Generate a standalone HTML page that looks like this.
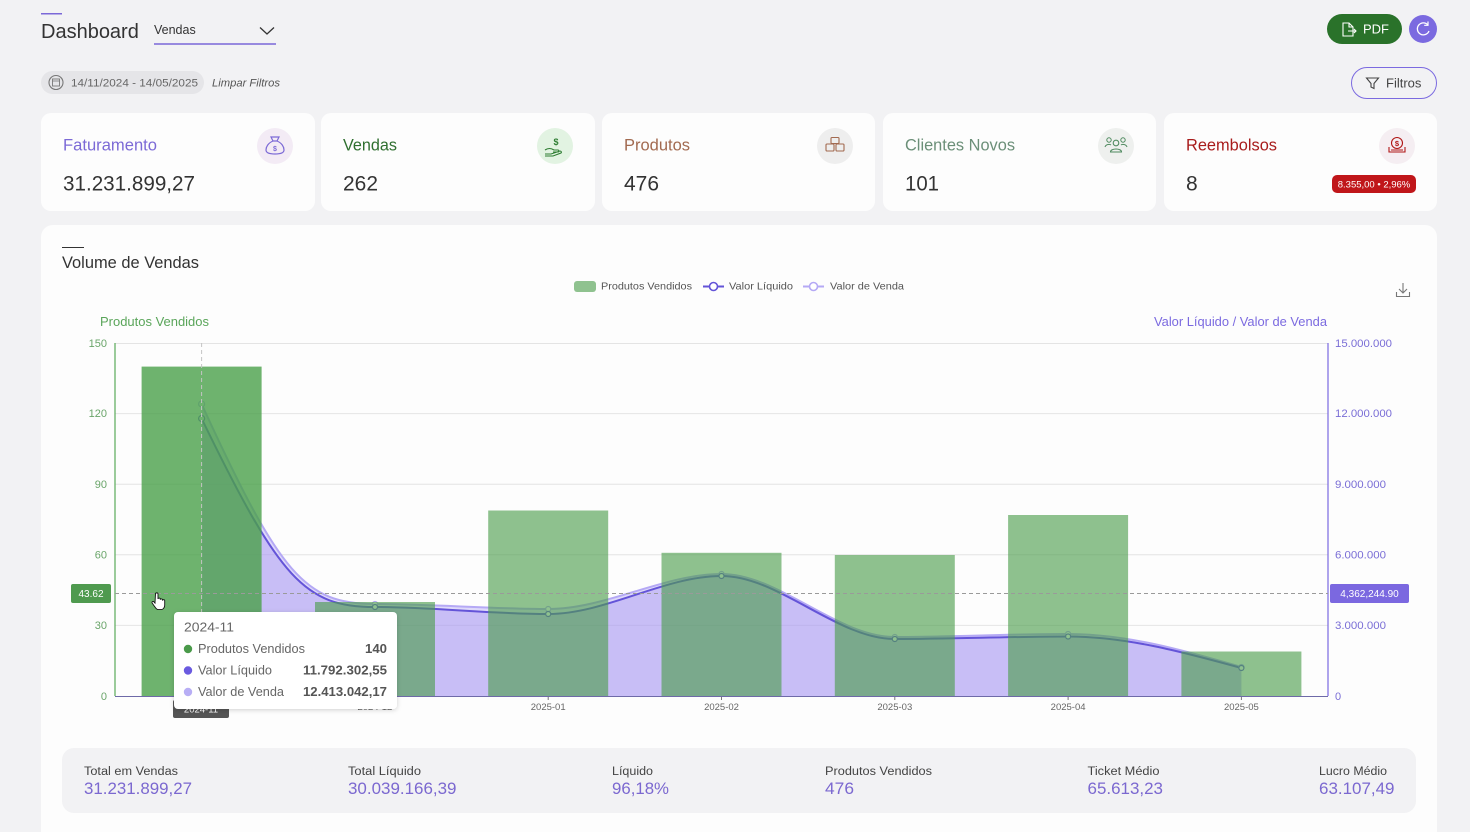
<!DOCTYPE html>
<html>
<head>
<meta charset="utf-8">
<style>
html,body{margin:0;padding:0;background:#f2f2f4;}
body{width:1470px;height:832px;overflow:hidden;}
svg{display:block;font-family:"Liberation Sans",sans-serif;}
</style>
</head>
<body>
<svg width="1470" height="832" viewBox="0 0 1470 832" xmlns="http://www.w3.org/2000/svg">
<defs>
<filter id="sh" x="-10%" y="-10%" width="120%" height="130%">
<feDropShadow dx="0" dy="1" stdDeviation="2.5" flood-color="#000" flood-opacity="0.18"/>
</filter>
</defs>
<rect x="0" y="0" width="1470" height="832" fill="#f2f2f4"/>

<!-- Header -->
<rect x="41" y="13" width="21" height="1.5" fill="#7b68d8"/>
<text x="41" y="38" font-size="20" fill="#333">Dashboard</text>
<text x="154" y="34" font-size="12.5" fill="#333">Vendas</text>
<line x1="154" y1="44" x2="276" y2="44" stroke="#7b68d8" stroke-width="1.5"/>
<polyline points="260,27.5 267,34 274,27.5" fill="none" stroke="#333" stroke-width="1.3"/>

<!-- PDF button -->
<rect x="1327" y="14" width="75" height="30" rx="15" fill="#2a722a"/>
<path d="M1343,23 h6 l4,4 v9 h-10 z M1349,23 v4 h4" fill="none" stroke="#fff" stroke-width="1.1"/>
<path d="M1348,31 h8 M1354,29 l2,2 -2,2" fill="none" stroke="#fff" stroke-width="1.1"/>
<text x="1363" y="33.5" font-size="13" fill="#fff">PDF</text>
<circle cx="1423" cy="29" r="14" fill="#7b6ae0"/>
<path d="M1428,25 A6,6 0 1 0 1429,31" fill="none" stroke="#fff" stroke-width="1.3"/>
<path d="M1428,21.5 v3.8 h-3.8" fill="none" stroke="#fff" stroke-width="1.2"/>

<!-- Date chip -->
<rect x="41" y="71" width="163" height="23" rx="11.5" fill="#e5e5e8"/>
<circle cx="56" cy="82.5" r="7" fill="none" stroke="#777" stroke-width="1.1"/>
<rect x="52.5" y="79" width="7" height="7" fill="none" stroke="#777" stroke-width="0.9"/>
<line x1="52.5" y1="81" x2="59.5" y2="81" stroke="#777" stroke-width="0.8"/>
<text x="71" y="86.5" font-size="11" fill="#666" textLength="127" lengthAdjust="spacingAndGlyphs">14/11/2024 - 14/05/2025</text>
<text x="212" y="86.5" font-size="11" font-style="italic" fill="#555" textLength="68" lengthAdjust="spacingAndGlyphs">Limpar Filtros</text>

<!-- Filtros -->
<rect x="1351.5" y="67.5" width="85" height="31" rx="15.5" fill="none" stroke="#7b6ae0" stroke-width="1"/>
<path d="M1366.5,78 h12 l-4.5,5.5 v5 l-3,-1.5 v-3.5 z" fill="none" stroke="#444" stroke-width="1.1"/>
<text x="1386" y="87.5" font-size="13" fill="#444">Filtros</text>

<!-- Stat cards -->
<rect x="41" y="113" width="274" height="98" rx="10" fill="#fdfdfd"/>
<rect x="321" y="113" width="274" height="98" rx="10" fill="#fdfdfd"/>
<rect x="602" y="113" width="273" height="98" rx="10" fill="#fdfdfd"/>
<rect x="883" y="113" width="273" height="98" rx="10" fill="#fdfdfd"/>
<rect x="1164" y="113" width="273" height="98" rx="10" fill="#fdfdfd"/>

<text x="63" y="150.5" font-size="17" fill="#7c6ad6" textLength="94" lengthAdjust="spacingAndGlyphs">Faturamento</text>
<text x="63" y="190.5" font-size="21" fill="#333" textLength="132" lengthAdjust="spacingAndGlyphs">31.231.899,27</text>
<circle cx="275" cy="146" r="18" fill="#f3ebf5"/>
<path d="M271,137 h8 l-2,4 c5,2 7,6 7,9 c0,3 -3,4 -9,4 c-6,0 -9,-1 -9,-4 c0,-3 2,-7 7,-9 z M273,141 h4" fill="none" stroke="#7c6ad6" stroke-width="1.2"/>
<text x="275" y="151" font-size="7" font-weight="bold" fill="#7c6ad6" text-anchor="middle">$</text>

<text x="343" y="150.5" font-size="17" fill="#2f6f2f" textLength="54" lengthAdjust="spacingAndGlyphs">Vendas</text>
<text x="343" y="190.5" font-size="21" fill="#333" textLength="35" lengthAdjust="spacingAndGlyphs">262</text>
<circle cx="555" cy="146" r="18" fill="#e2f3e2"/>
<text x="556" y="145" font-size="9" font-weight="bold" fill="#2e7d32" text-anchor="middle">$</text>
<path d="M545,150 c3,-2 6,-2 9,0 h4 c1,0 1,2 0,2 h-5 M545,154 h6 l9,-3 c1,0 2,1 1,2 l-8,3 h-8" fill="none" stroke="#2e7d32" stroke-width="1.1"/>

<text x="624" y="150.5" font-size="17" fill="#a26a50" textLength="66" lengthAdjust="spacingAndGlyphs">Produtos</text>
<text x="624" y="190.5" font-size="21" fill="#333" textLength="35" lengthAdjust="spacingAndGlyphs">476</text>
<circle cx="835" cy="146" r="18" fill="#eeeeee"/>
<rect x="831" y="137.5" width="8" height="6" rx="1" fill="none" stroke="#a26a50" stroke-width="1.1"/>
<rect x="826" y="144" width="8" height="7" rx="1" fill="none" stroke="#a26a50" stroke-width="1.1"/>
<rect x="836" y="144" width="8" height="7" rx="1" fill="none" stroke="#a26a50" stroke-width="1.1"/>

<text x="905" y="150.5" font-size="17" fill="#6b8f78" textLength="110" lengthAdjust="spacingAndGlyphs">Clientes Novos</text>
<text x="905" y="190.5" font-size="21" fill="#333" textLength="34" lengthAdjust="spacingAndGlyphs">101</text>
<circle cx="1116" cy="146" r="18" fill="#eef0ee"/>
<circle cx="1116" cy="143" r="2.8" fill="none" stroke="#4f8a5f" stroke-width="1.1"/>
<path d="M1110.5,152 c0,-4 11,-4 11,0 z" fill="none" stroke="#4f8a5f" stroke-width="1.1"/>
<circle cx="1109" cy="140" r="2.2" fill="none" stroke="#4f8a5f" stroke-width="1"/>
<circle cx="1123" cy="140" r="2.2" fill="none" stroke="#4f8a5f" stroke-width="1"/>
<path d="M1105,147 c1,-3 5,-3 6,-2 M1127,147 c-1,-3 -5,-3 -6,-2" fill="none" stroke="#4f8a5f" stroke-width="1"/>

<text x="1186" y="150.5" font-size="17" fill="#a81c1c" textLength="91" lengthAdjust="spacingAndGlyphs">Reembolsos</text>
<text x="1186" y="190.5" font-size="21" fill="#333">8</text>
<circle cx="1397" cy="146" r="18" fill="#f5eef2"/>
<circle cx="1397" cy="143" r="5.5" fill="none" stroke="#b01616" stroke-width="1.1"/>
<text x="1397" y="146" font-size="7.5" font-weight="bold" fill="#b01616" text-anchor="middle">$</text>
<path d="M1389,147 v5 h16 v-5 M1391,150 h12" fill="none" stroke="#b01616" stroke-width="1.1"/>
<rect x="1332" y="175" width="84" height="18" rx="5" fill="#c0161a"/>
<text x="1374" y="187.5" font-size="9.5" fill="#fff" text-anchor="middle">8.355,00 • 2,96%</text>

<!-- Chart card -->
<rect x="41" y="225" width="1396" height="640" rx="12" fill="#fdfdfd"/>
<line x1="62" y1="247.5" x2="84" y2="247.5" stroke="#333" stroke-width="1"/>
<text x="62" y="268" font-size="16.5" fill="#333" textLength="137" lengthAdjust="spacingAndGlyphs">Volume de Vendas</text>

<!-- Legend -->
<rect x="574" y="281" width="22" height="11" rx="3" fill="#8fc28f"/>
<text x="601" y="289.5" font-size="10.5" fill="#555" textLength="91" lengthAdjust="spacingAndGlyphs">Produtos Vendidos</text>
<line x1="703" y1="286.5" x2="724" y2="286.5" stroke="#6454d8" stroke-width="2"/>
<circle cx="713.5" cy="286.5" r="4" fill="#fff" stroke="#6454d8" stroke-width="1.6"/>
<text x="729" y="289.5" font-size="10.5" fill="#555" textLength="64" lengthAdjust="spacingAndGlyphs">Valor Líquido</text>
<line x1="803" y1="286.5" x2="824" y2="286.5" stroke="#b5a9f5" stroke-width="2"/>
<circle cx="813.5" cy="286.5" r="4" fill="#fff" stroke="#b5a9f5" stroke-width="1.6"/>
<text x="830" y="289.5" font-size="10.5" fill="#555" textLength="74" lengthAdjust="spacingAndGlyphs">Valor de Venda</text>

<!-- Download icon -->
<path d="M1403,283 v10 M1399,289 l4,4 4,-4 M1396.5,292 v4.5 h13 v-4.5" fill="none" stroke="#777" stroke-width="1.1"/>

<!-- Axis titles -->
<text x="100" y="326" font-size="12.5" fill="#5aa55a" textLength="109" lengthAdjust="spacingAndGlyphs">Produtos Vendidos</text>
<text x="1154" y="326" font-size="12.5" fill="#7b6ae0" textLength="173" lengthAdjust="spacingAndGlyphs">Valor Líquido / Valor de Venda</text>

<!-- Grid -->
<g stroke="#e4e4e4" stroke-width="1">
<line x1="115" y1="343.5" x2="1328" y2="343.5"/>
<line x1="115" y1="413.6" x2="1328" y2="413.6"/>
<line x1="115" y1="484.2" x2="1328" y2="484.2"/>
<line x1="115" y1="554.8" x2="1328" y2="554.8"/>
<line x1="115" y1="625.4" x2="1328" y2="625.4"/>
</g>

<!-- Left ticks -->
<g font-size="11" fill="#6aa56a" text-anchor="end">
<text x="107" y="347">150</text>
<text x="107" y="417">120</text>
<text x="107" y="488">90</text>
<text x="107" y="558.5">60</text>
<text x="107" y="629">30</text>
<text x="107" y="700">0</text>
</g>
<!-- Right ticks -->
<g font-size="11" fill="#7a6ed6">
<text x="1335" y="347" textLength="57" lengthAdjust="spacingAndGlyphs">15.000.000</text>
<text x="1335" y="417" textLength="57" lengthAdjust="spacingAndGlyphs">12.000.000</text>
<text x="1335" y="488" textLength="51" lengthAdjust="spacingAndGlyphs">9.000.000</text>
<text x="1335" y="558.5" textLength="51" lengthAdjust="spacingAndGlyphs">6.000.000</text>
<text x="1335" y="629" textLength="51" lengthAdjust="spacingAndGlyphs">3.000.000</text>
<text x="1335" y="700">0</text>
</g>

<!-- Areas -->
<path d="M201.6,404 C280,575 305,604 375,604 C432,604 490,609 548.2,609 C606,609 664,574 721.5,574 C779,574 837,637 894.8,637 C952,637 1010,634 1068.1,634 C1126,634 1183,650 1241.4,667 L1241.4,696 L201.6,696 Z" fill="rgba(185,172,247,0.45)"/>
<path d="M201.6,418.5 C280,580 305,607 375,607 C432,607 490,614 548.2,614 C606,614 664,576 721.5,576 C779,576 837,639 894.8,639 C952,639 1010,636.5 1068.1,636.5 C1126,636.5 1183,652 1241.4,668 L1241.4,696 L201.6,696 Z" fill="rgba(150,130,240,0.3)"/>

<!-- Lines -->
<path d="M201.6,404 C280,575 305,604 375,604 C432,604 490,609 548.2,609 C606,609 664,574 721.5,574 C779,574 837,637 894.8,637 C952,637 1010,634 1068.1,634 C1126,634 1183,650 1241.4,667" fill="none" stroke="#b5a9f5" stroke-width="2"/>
<path d="M201.6,418.5 C280,580 305,607 375,607 C432,607 490,614 548.2,614 C606,614 664,576 721.5,576 C779,576 837,639 894.8,639 C952,639 1010,636.5 1068.1,636.5 C1126,636.5 1183,652 1241.4,668" fill="none" stroke="#6454d8" stroke-width="2"/>
<g fill="#fff" stroke="#b5a9f5" stroke-width="1.2">
<circle cx="201.6" cy="404" r="3"/><circle cx="375" cy="604" r="2.5"/><circle cx="548.2" cy="609" r="2.5"/><circle cx="721.5" cy="574" r="2.5"/><circle cx="894.8" cy="637" r="2.5"/><circle cx="1068.1" cy="634" r="2.5"/><circle cx="1241.4" cy="667" r="2.5"/>
</g>
<g fill="#fff" stroke="#6454d8" stroke-width="1.2">
<circle cx="201.6" cy="418.5" r="3"/><circle cx="375" cy="607" r="2.5"/><circle cx="548.2" cy="614" r="2.5"/><circle cx="721.5" cy="576" r="2.5"/><circle cx="894.8" cy="639" r="2.5"/><circle cx="1068.1" cy="636.5" r="2.5"/><circle cx="1241.4" cy="668" r="2.5"/>
</g>

<!-- Bars -->
<rect x="141.6" y="366.6" width="120" height="329.4" fill="rgba(74,160,74,0.8)"/>
<g fill="rgba(74,157,74,0.62)">
<rect x="315" y="602" width="120" height="94"/>
<rect x="488.2" y="510.5" width="120" height="185.5"/>
<rect x="661.5" y="552.8" width="120" height="143.2"/>
<rect x="834.8" y="555" width="120" height="141"/>
<rect x="1008.1" y="515" width="120" height="181"/>
<rect x="1181.4" y="651.5" width="120" height="44.5"/>
</g>

<!-- Axes -->
<line x1="115" y1="343" x2="115" y2="696" stroke="#5aaa5a" stroke-width="1.2"/>
<line x1="1328" y1="343" x2="1328" y2="696" stroke="#7b6ae0" stroke-width="1.2"/>
<line x1="115" y1="696.5" x2="1328" y2="696.5" stroke="#6e6aa8" stroke-width="1"/>
<g stroke="#777" stroke-width="1">
<line x1="374.9" y1="697" x2="374.9" y2="700"/><line x1="548.2" y1="697" x2="548.2" y2="700"/><line x1="721.5" y1="697" x2="721.5" y2="700"/><line x1="894.8" y1="697" x2="894.8" y2="700"/><line x1="1068.1" y1="697" x2="1068.1" y2="700"/><line x1="1241.4" y1="697" x2="1241.4" y2="700"/>
</g>
<g font-size="9.5" fill="#666" text-anchor="middle">
<text x="374.9" y="710">2024-12</text>
<text x="548.2" y="710">2025-01</text>
<text x="721.5" y="710">2025-02</text>
<text x="894.8" y="710">2025-03</text>
<text x="1068.1" y="710">2025-04</text>
<text x="1241.4" y="710">2025-05</text>
</g>

<!-- Crosshair -->
<line x1="201.6" y1="343" x2="201.6" y2="696" stroke="#c4c4c4" stroke-width="1" stroke-dasharray="4,3"/>
<line x1="115" y1="593.5" x2="1328" y2="593.5" stroke="#9a9a9a" stroke-width="1" stroke-dasharray="4,3"/>
<rect x="71" y="584" width="40" height="19" rx="2" fill="#4f9a4f"/>
<text x="91" y="597" font-size="10" fill="#fff" text-anchor="middle">43.62</text>
<rect x="1330" y="584" width="79" height="19" rx="2" fill="#7b68e0"/>
<text x="1369.5" y="597" font-size="10" fill="#fff" text-anchor="middle">4,362,244.90</text>
<rect x="173" y="700" width="56" height="18" rx="2" fill="#555"/>
<text x="201" y="712.5" font-size="9.5" fill="#fff" text-anchor="middle">2024-11</text>

<!-- Cursor -->
<path d="M155.5,594 c0,-1.5 2.5,-1.5 2.5,0 v5 c0,-1.2 2.3,-1.2 2.3,0 v0.8 c0,-1.2 2.2,-1.2 2.2,0 v0.8 c0,-1.2 2.2,-1.2 2.2,0 v4.5 c0,2.5 -1.5,4.5 -3.5,4.5 h-3 c-1.5,0 -2.5,-1.5 -3.5,-3 l-2.5,-3.5 c-0.8,-1.2 0.8,-2.2 1.8,-1.2 l1,1.2 z" fill="#fff" stroke="#111" stroke-width="0.9"/>

<!-- Tooltip -->
<rect x="174" y="612" width="223" height="97" rx="4" fill="#fff" filter="url(#sh)"/>
<text x="184" y="631.5" font-size="13" fill="#666" textLength="50" lengthAdjust="spacingAndGlyphs">2024-11</text>
<circle cx="188" cy="649" r="4.2" fill="#4a9a4a"/>
<text x="198" y="653" font-size="12.5" fill="#666" textLength="107" lengthAdjust="spacingAndGlyphs">Produtos Vendidos</text>
<text x="365" y="653" font-size="12.5" font-weight="bold" fill="#555" textLength="22" lengthAdjust="spacingAndGlyphs">140</text>
<circle cx="188" cy="670.5" r="4.2" fill="#6a5ae0"/>
<text x="198" y="674.5" font-size="12.5" fill="#666" textLength="74" lengthAdjust="spacingAndGlyphs">Valor Líquido</text>
<text x="303" y="674.5" font-size="12.5" font-weight="bold" fill="#555" textLength="84" lengthAdjust="spacingAndGlyphs">11.792.302,55</text>
<circle cx="188" cy="692" r="4.2" fill="#b8aef5"/>
<text x="198" y="696" font-size="12.5" fill="#666" textLength="86" lengthAdjust="spacingAndGlyphs">Valor de Venda</text>
<text x="303" y="696" font-size="12.5" font-weight="bold" fill="#555" textLength="84" lengthAdjust="spacingAndGlyphs">12.413.042,17</text>

<!-- Summary -->
<rect x="62" y="748" width="1354" height="65" rx="12" fill="#f2f2f4"/>
<g font-size="11.5" fill="#444">
<text x="84" y="775" textLength="94" lengthAdjust="spacingAndGlyphs">Total em Vendas</text>
<text x="348" y="775" textLength="73" lengthAdjust="spacingAndGlyphs">Total Líquido</text>
<text x="612" y="775" textLength="41" lengthAdjust="spacingAndGlyphs">Líquido</text>
<text x="825" y="775" textLength="107" lengthAdjust="spacingAndGlyphs">Produtos Vendidos</text>
<text x="1087.5" y="775" textLength="72" lengthAdjust="spacingAndGlyphs">Ticket Médio</text>
<text x="1319" y="775" textLength="68" lengthAdjust="spacingAndGlyphs">Lucro Médio</text>
</g>
<g font-size="16.5" fill="#7b68d0">
<text x="84" y="794" textLength="108" lengthAdjust="spacingAndGlyphs">31.231.899,27</text>
<text x="348" y="794" textLength="108.5" lengthAdjust="spacingAndGlyphs">30.039.166,39</text>
<text x="612" y="794" textLength="57" lengthAdjust="spacingAndGlyphs">96,18%</text>
<text x="825" y="794" textLength="29" lengthAdjust="spacingAndGlyphs">476</text>
<text x="1087.5" y="794" textLength="75.5" lengthAdjust="spacingAndGlyphs">65.613,23</text>
<text x="1319" y="794" textLength="75.5" lengthAdjust="spacingAndGlyphs">63.107,49</text>
</g>
</svg>
</body>
</html>
